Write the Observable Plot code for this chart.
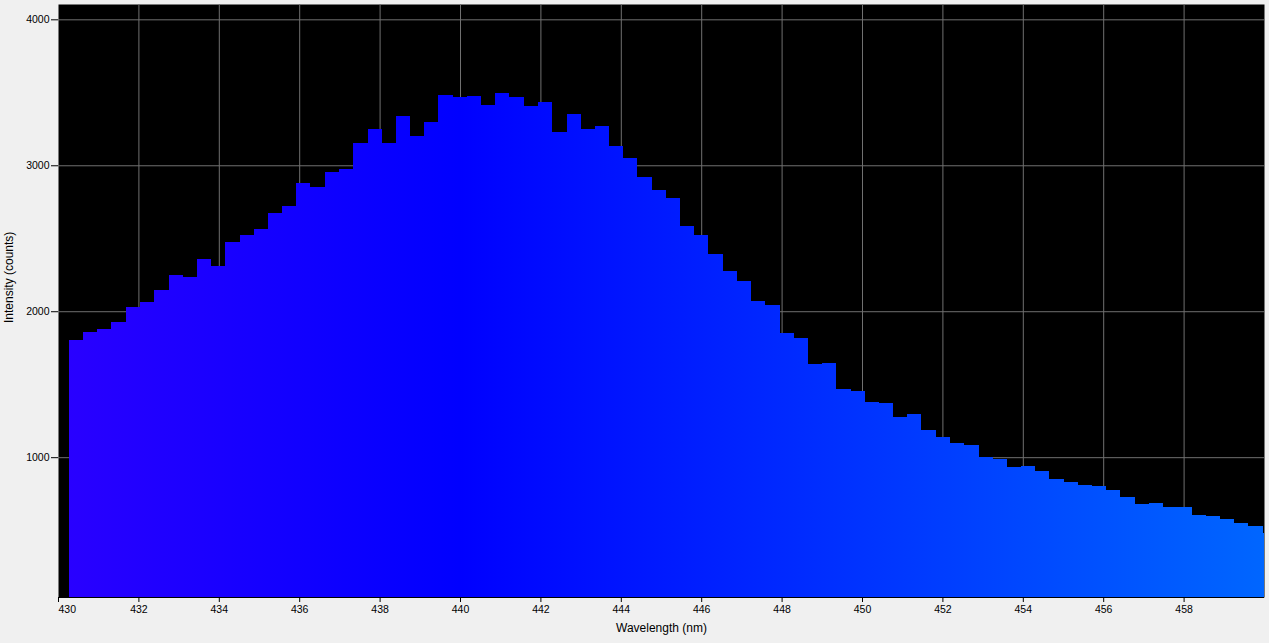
<!DOCTYPE html>
<html><head><meta charset="utf-8">
<script src="https://cdn.jsdelivr.net/npm/d3@7"></script>
<script src="https://cdn.jsdelivr.net/npm/@observablehq/plot@0.6"></script>
<style>
html,body{margin:0;padding:0;background:#f0f0f0;overflow:hidden;}
#chart{width:1269px;height:643px;}
</style></head><body><div id="chart"></div>
<script>
// Bin start wavelengths (nm)
const wavelengths = [430.27,430.63,430.98,431.33,431.69,432.04,432.40,432.75,433.10,433.46,
433.81,434.16,434.52,434.87,435.22,435.58,435.93,436.28,436.64,436.99,
437.34,437.70,438.05,438.40,438.76,439.11,439.46,439.82,440.17,440.52,
440.88,441.23,441.59,441.94,442.29,442.65,443.00,443.35,443.71,444.06,
444.41,444.77,445.12,445.47,445.83,446.18,446.53,446.89,447.24,447.59,
447.95,448.30,448.65,449.01,449.36,449.72,450.07,450.42,450.78,451.13,
451.48,451.84,452.19,452.54,452.90,453.25,453.60,453.96,454.31,454.66,
455.02,455.37,455.72,456.08,456.43,456.78,457.14,457.49,457.85,458.20,
458.55,458.91,459.26,459.61,459.97];
const binWidth = 0.3535;
// Intensity (counts)
const intensities = [1801,1856,1877,1925,2027,2062,2144,2247,2233,2356,
2308,2473,2521,2562,2671,2719,2877,2849,2952,2973,
3151,3247,3151,3336,3199,3295,3479,3466,3473,3411,
3493,3466,3404,3432,3226,3349,3247,3267,3130,3048,
2918,2829,2774,2582,2521,2390,2274,2205,2068,2041,
1849,1815,1637,1644,1466,1452,1377,1370,1274,1295,
1185,1137,1096,1082,1000,986,932,938,904,849,
829,808,801,774,726,678,685,658,658,603,
596,575,548,527,479];
const xTicks = [432,434,436,438,440,442,444,446,448,450,452,454,456,458];
const xFirstTick = [430];
const yTicks = [1000,2000,3000,4000];
const xDomain = [430,460];
const yDomain = [42,4105];
// spectral gradient stops
const gradWavelengths = [430,440,460];
const gradColors = ["#2a00ff","#0000ff","#0066ff"];

const data = wavelengths.map((w,i)=>({x1:w, x2:(i < wavelengths.length-1 ? wavelengths[i+1] : w+binWidth), y:intensities[i]}));

const plot = Plot.plot({
  width:1269, height:643,
  marginLeft:58, marginRight:5, marginTop:4, marginBottom:46,
  style:{background:"#f0f0f0", fontFamily:"'Liberation Sans', Arial, sans-serif", fontSize:"10.5px", color:"black"},
  x:{domain:xDomain},
  y:{domain:yDomain},
  marks:[
    Plot.frame({fill:"black", stroke:null}),
    Plot.gridX(xTicks,{stroke:"#707070", strokeOpacity:1}),
    Plot.gridY(yTicks,{stroke:"#707070", strokeOpacity:1}),
    Plot.rectY(data,{x1:"x1", x2:"x2", y1:yDomain[0], y2:"y", fill:"url(#spectrum)", clip:true, shapeRendering:"crispEdges"}),
    Plot.ruleY([yDomain[0]],{stroke:"black", strokeWidth:1}),
    Plot.axisY(yTicks,{tickSize:7, tickPadding:2, label:null, stroke:"black", tickFormat:d3.format("d")}),
    Plot.axisX(xTicks,{tickSize:5, tickPadding:3, label:null, stroke:"black", tickFormat:d3.format("d")}),
    Plot.axisX(xFirstTick,{tickSize:5, tickPadding:3, label:null, textAnchor:"start", stroke:"black", tickFormat:d3.format("d")}),
    Plot.text(["Wavelength (nm)"],{frameAnchor:"bottom", dy:34, fontSize:12, fill:"black"}),
    Plot.text(["Intensity (counts)"],{frameAnchor:"left", dx:-49, dy:22, rotate:-90, fontSize:12, fill:"black"})
  ]
});

const svg = plot.tagName.toLowerCase() === "svg" ? plot : plot.querySelector("svg");
const xs = plot.scale("x");
const ns = "http://www.w3.org/2000/svg";
const defs = document.createElementNS(ns,"defs");
const grad = document.createElementNS(ns,"linearGradient");
grad.setAttribute("id","spectrum");
grad.setAttribute("gradientUnits","userSpaceOnUse");
const gx1 = xs.apply(gradWavelengths[0]), gx2 = xs.apply(gradWavelengths[gradWavelengths.length-1]);
grad.setAttribute("x1",gx1); grad.setAttribute("x2",gx2);
grad.setAttribute("y1",0); grad.setAttribute("y2",0);
gradWavelengths.forEach((w,i)=>{
  const s = document.createElementNS(ns,"stop");
  s.setAttribute("offset",(xs.apply(w)-gx1)/(gx2-gx1));
  s.setAttribute("stop-color",gradColors[i]);
  grad.appendChild(s);
});
defs.appendChild(grad);
svg.insertBefore(defs, svg.firstChild);
document.getElementById("chart").appendChild(plot);
</script></body></html>
